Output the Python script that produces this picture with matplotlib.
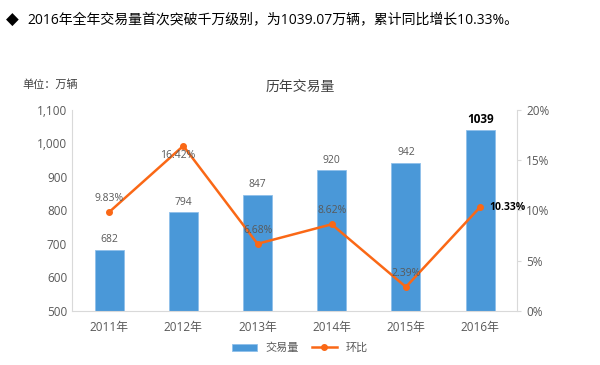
import matplotlib.pyplot as plt
from matplotlib.ticker import FuncFormatter

plt.rcParams['font.family'] = ['Open Sans', 'Noto Sans CJK SC', 'DejaVu Sans']

years = ["2011年", "2012年", "2013年", "2014年", "2015年", "2016年"]
volume = [682, 794, 847, 920, 942, 1039]
growth = [9.83, 16.42, 6.68, 8.62, 2.39, 10.33]

grey = "#595959"
bar_color = "#4a98d8"
line_color = "#fa6816"

fig = plt.figure(figsize=(6, 3.65), dpi=100)
ax = fig.add_axes([0.12, 0.148, 0.742, 0.551])
x = list(range(len(years)))

ax.bar(x, volume, width=0.39, color=bar_color, edgecolor="#8fc0ea", linewidth=0.6,
       label="交易量", zorder=2)
ax.set_ylim(500, 1100)
ax.set_xlim(-0.5, 5.5)
ax.set_yticks(range(500, 1101, 100))
ax.yaxis.set_major_formatter(FuncFormatter(lambda v, p: f"{int(v):,}"))
ax.set_xticks(x)
ax.set_xticklabels(years)
ax.tick_params(axis="both", colors=grey, labelsize=8.5, length=0)
ax.tick_params(axis="x", pad=7)
for s in ["top", "right"]:
    ax.spines[s].set_visible(False)
for s in ["left", "bottom"]:
    ax.spines[s].set_color("#d9d9d9")

for i, v in enumerate(volume):
    if i == len(volume) - 1:
        ax.text(i, v + 14, str(v), ha="center", va="bottom", fontsize=8.5,
                color="black", fontweight="bold")
    else:
        ax.text(i, v + 14, str(v), ha="center", va="bottom", fontsize=7.5, color=grey)

ax2 = ax.twinx()
ax2.plot(x, growth, color=line_color, linewidth=1.8, marker="o", markersize=4,
         label="环比", zorder=3)
ax2.set_ylim(0, 20)
ax2.set_yticks(range(0, 21, 5))
ax2.yaxis.set_major_formatter(FuncFormatter(lambda v, p: f"{int(v)}%"))
ax2.tick_params(axis="y", colors=grey, labelsize=8.5, length=3)
ax2.tick_params(axis="y", color="#d9d9d9")
for s in ["top", "left", "bottom"]:
    ax2.spines[s].set_visible(False)
ax2.spines["right"].set_color("#d9d9d9")

for i, g in enumerate(growth):
    lab = f"{g:.2f}%"
    if i == 1:
        ax2.text(i - 0.08, g - 0.4, lab, ha="center", va="top", fontsize=7.5, color=grey)
    elif i == len(growth) - 1:
        ax2.text(i + 0.12, g, lab, ha="left", va="center", fontsize=7.5,
                 color="black", fontweight="bold")
    else:
        ax2.text(i, g + 0.8, lab, ha="center", va="bottom", fontsize=7.5, color=grey)

fig.text(0.5, 0.762, "历年交易量", ha="center", va="center", fontsize=10, color="#404040")
fig.text(0.037, 0.765, "单位：万辆", ha="left", va="center", fontsize=8, color="#404040")
fig.text(0.01, 0.945, "◆", ha="left", va="center", fontsize=12, color="black",
         family=["DejaVu Sans"])
fig.text(0.045, 0.945, "2016年全年交易量首次突破千万级别，为1039.07万辆，累计同比增长10.33%。",
         ha="left", va="center", fontsize=10, color="black")

h1, l1 = ax.get_legend_handles_labels()
h2, l2 = ax2.get_legend_handles_labels()
fig.legend(h1 + h2, l1 + l2, loc="center", bbox_to_anchor=(0.5, 0.045), ncol=2,
           frameon=False, fontsize=8, labelcolor=grey, handlelength=2.2,
           handleheight=0.6, columnspacing=1.2)

fig.savefig("out.png", dpi=100)
